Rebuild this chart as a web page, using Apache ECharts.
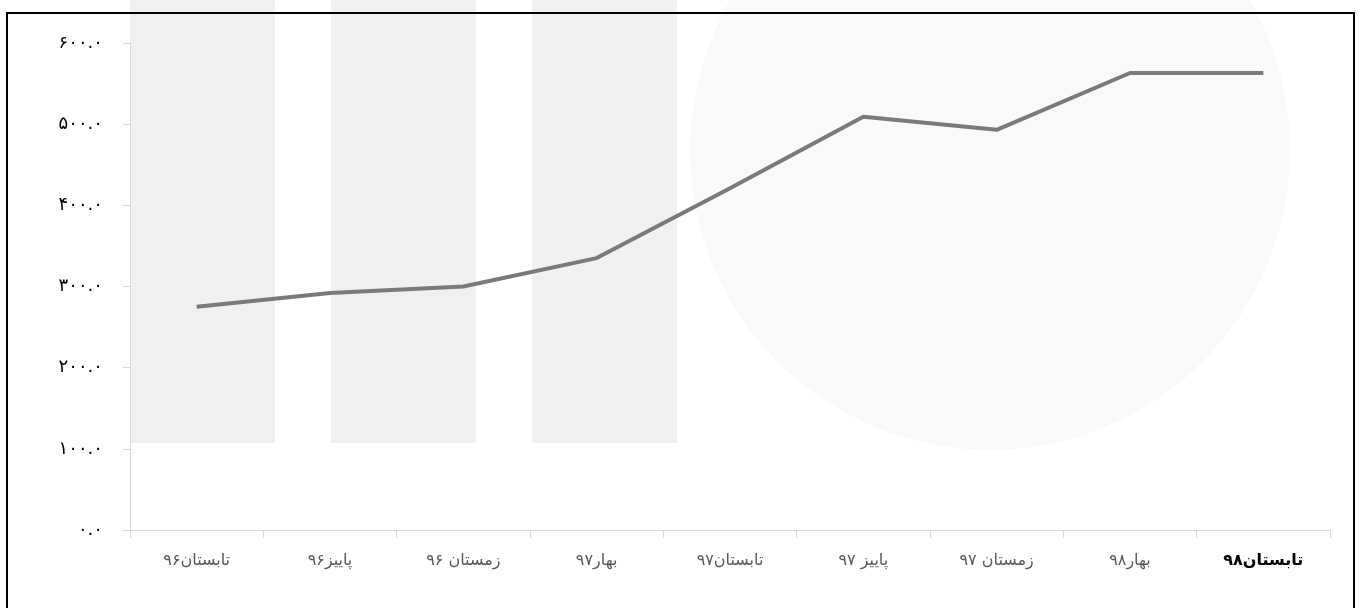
<!DOCTYPE html>
<html>
<head>
<meta charset="utf-8">
<script src="https://cdn.jsdelivr.net/npm/echarts@6/dist/echarts.min.js"></script>
<style>html,body{margin:0;padding:0;background:#fff}#c{width:1362px;height:608px}</style>
</head>
<body>
<div id="c"></div>
<script>
const categories = ['تابستان۹۶','پاییز۹۶','زمستان ۹۶','بهار۹۷','تابستان۹۷','پاییز ۹۷','زمستان ۹۷','بهار۹۸','تابستان۹۸'];
const values = [275, 292, 300, 335, 421, 509, 493, 563, 563];
const yTicks = [0, 100, 200, 300, 400, 500, 600];

const fa = d => String(d).replace(/[0-9]/g, c => '۰۱۲۳۴۵۶۷۸۹'[+c]);
const chart = echarts.init(document.getElementById('c'), null, {renderer: 'canvas'});
chart.setOption({
  backgroundColor: '#fff',
  animation: false,
  textStyle: {fontFamily: 'DejaVu Sans'},
  graphic: [
    {type: 'rect', z: -10, shape: {x: 130, y: 0, width: 145, height: 443}, style: {fill: '#f0f0f0'}},
    {type: 'rect', z: -10, shape: {x: 331, y: 0, width: 145, height: 443}, style: {fill: '#f0f0f0'}},
    {type: 'rect', z: -10, shape: {x: 532, y: 0, width: 145, height: 443}, style: {fill: '#f0f0f0'}},
    {type: 'circle', z: -11, shape: {cx: 990, cy: 150, r: 300}, style: {fill: '#f9f9f9'}},
    {type: 'rect', z: 50, shape: {x: 7, y: 13, width: 1347, height: 620}, style: {fill: 'none', stroke: '#000', lineWidth: 2}}
  ],
  grid: {left: 130, right: 32, top: 43, bottom: 78},
  xAxis: {
    type: 'category',
    data: categories,
    boundaryGap: true,
    axisLine: {lineStyle: {color: '#d9d9d9', width: 1}},
    axisTick: {show: true, length: 8, lineStyle: {color: '#d9d9d9'}},
    axisLabel: {
      interval: 0, hideOverlap: false,
      margin: 23, fontSize: 16, color: '#595959',
      formatter: (v, i) => i === categories.length - 1 ? '{b|' + v + '}' : v,
      rich: {b: {fontSize: 16, color: '#000', fontWeight: 'bold', fontFamily: 'DejaVu Sans'}}
    }
  },
  yAxis: {
    type: 'value',
    min: yTicks[0], max: yTicks[yTicks.length - 1], interval: 100,
    axisLine: {show: true, lineStyle: {color: '#d9d9d9'}},
    axisTick: {show: true, length: 7, lineStyle: {color: '#d9d9d9'}},
    splitLine: {show: false},
    axisLabel: {margin: 27, fontSize: 18, color: '#000', formatter: v => fa(v.toFixed(1))}
  },
  series: [{
    type: 'line',
    data: values,
    symbol: 'none',
    lineStyle: {color: '#7a7a7a', width: 4},
    z: 5
  }]
});
</script>
</body>
</html>
